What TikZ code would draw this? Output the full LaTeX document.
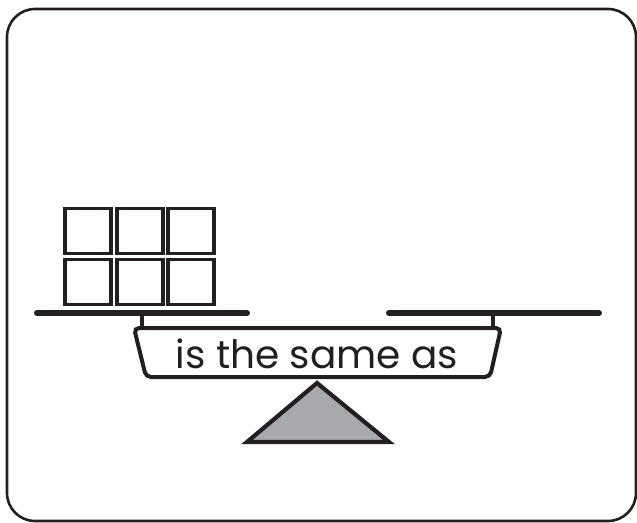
\documentclass[tikz,border=0pt]{standalone}
\usepackage{fontspec}
\newfontfamily\labelfont{Poppins}
\definecolor{ink}{HTML}{231F20}
\definecolor{fulcrum}{HTML}{A7A9AC}
\begin{document}
\begin{tikzpicture}[x=1pt,y=-1pt,
  frame/.style={draw=ink,line width=2.6pt,rounded corners=28pt},
  block/.style={draw=ink,line width=3.4pt,minimum width=46pt,minimum height=45pt,inner sep=0pt},
  beam/.style={draw=ink,line width=6pt,line cap=round},
  post/.style={draw=ink,line width=3.5pt},
  plate/.style={draw=ink,fill=white,line width=4pt,rounded corners=5pt},
  pivot/.style={draw=ink,fill=fulcrum,line width=4.2pt,line join=miter}]
\useasboundingbox (0,0) rectangle (637,522);
\draw[frame] (7,9) rectangle (636,521);
% blocks
\node[block] (b1) at (88,231) {};
\node[block] (b2) at (140,231) {};
\node[block] (b3) at (191,231) {};
\node[block] (b4) at (88,282) {};
\node[block] (b5) at (140,282) {};
\node[block] (b6) at (191,282) {};
% beams
\coordinate (l1) at (37,313);
\coordinate (l2) at (247,313);
\coordinate (r1) at (389,313);
\coordinate (r2) at (599,313);
\draw[beam] (l1) -- (l2);
\draw[beam] (r1) -- (r2);
% posts
\coordinate (pl) at (142,313);
\coordinate (pr) at (493,313);
\coordinate (plb) at (142,328);
\coordinate (prb) at (493,328);
\draw[post] (pl) -- (plb);
\draw[post] (pr) -- (prb);
% plate
\draw[plate] (134,328) -- (501,328) -- (490,377) -- (146,377) -- cycle;
\node[font=\labelfont\fontsize{39}{42}\selectfont,text=ink,inner sep=0pt,anchor=base] (lbl) at (317,368) {is the same as};
% fulcrum
\draw[pivot] (317,383) -- (389,442) -- (247,442) -- cycle;
\end{tikzpicture}
\end{document}
